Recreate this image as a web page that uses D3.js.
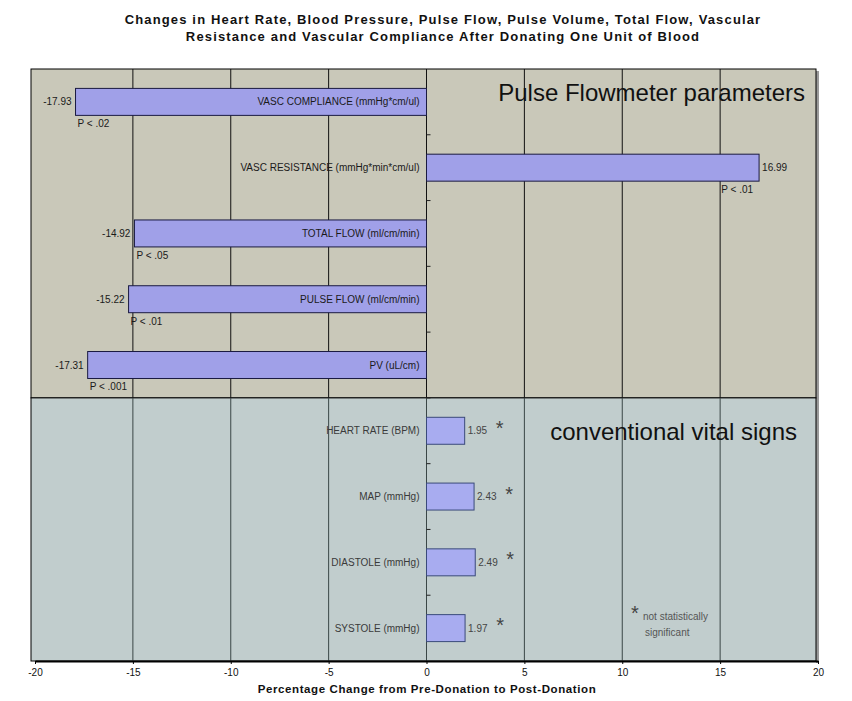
<!DOCTYPE html>
<html>
  <head>
    <meta charset="utf-8" />
    <style>
      body { margin: 0; background: #fff; }
      text { font-family: "Liberation Sans", Arial, sans-serif; }
    </style>
  </head>
  <body>

<svg id="graph"></svg>

<script src="https://d3js.org/d3.v7.min.js"></script>
<script>
  const WIDTH = 852;
  const HEIGHT = 701;

  // data, top to bottom as drawn
  const CATEGORIES = [
    'VASC COMPLIANCE (mmHg*cm/ul)',
    'VASC RESISTANCE (mmHg*min*cm/ul)',
    'TOTAL FLOW (ml/cm/min)',
    'PULSE FLOW (ml/cm/min)',
    'PV (uL/cm)',
    'HEART RATE (BPM)',
    'MAP (mmHg)',
    'DIASTOLE (mmHg)',
    'SYSTOLE (mmHg)'
  ];
  const VALUES = [-17.93, 16.99, -14.92, -15.22, -17.31, 1.95, 2.43, 2.49, 1.97];
  const P_LABELS = ['P < .02', 'P < .01', 'P < .05', 'P < .01', 'P < .001', '', '', '', ''];
  const GROUPS = ['pulse', 'pulse', 'pulse', 'pulse', 'pulse', 'vital', 'vital', 'vital', 'vital'];
  const NOT_SIGNIFICANT = [false, false, false, false, false, true, true, true, true];
  const X_TICKS = [-20, -15, -10, -5, 0, 5, 10, 15, 20];

  const DATA = CATEGORIES.map((c, i) => ({
    cat: c, value: VALUES[i], p: P_LABELS[i], group: GROUPS[i], ns: NOT_SIGNIFICANT[i]
  }));

  const PLOT = { left: 31, right: 816, top: 69, bottom: 661 };

  const svg = d3.select('#graph').attr('width', WIDTH).attr('height', HEIGHT);

  const x = d3.scaleLinear().domain([-20, 20]).range([35, 818]);
  const y = d3.scaleBand().domain(CATEGORIES).range([PLOT.top, PLOT.bottom]).padding(0);
  const BAR_H = y.step() * 0.41;
  const cy = d => y(d.cat) + y.bandwidth() / 2;

  // title
  const title = svg.append('text')
    .attr('x', 443).attr('y', 24)
    .attr('text-anchor', 'middle')
    .style('font-size', '13px').style('font-weight', 'bold')
    .style('letter-spacing', '1.15px').attr('fill', '#111');
  title.append('tspan').attr('x', 443).attr('dy', 0)
    .text('Changes in Heart Rate, Blood Pressure, Pulse Flow, Pulse Volume, Total Flow, Vascular');
  title.append('tspan').attr('x', 443).attr('dy', 17)
    .text('Resistance and Vascular Compliance After Donating One Unit of Blood');

  // section backgrounds
  const splitY = y(CATEGORIES[5]);
  svg.append('rect')
    .attr('x', PLOT.right).attr('y', PLOT.top + 2)
    .attr('width', 3).attr('height', PLOT.bottom - PLOT.top)
    .attr('fill', '#9a9a9a');
  svg.append('rect')
    .attr('x', PLOT.left).attr('y', PLOT.top)
    .attr('width', PLOT.right - PLOT.left).attr('height', splitY - PLOT.top)
    .attr('fill', '#c9c8b9').attr('stroke', '#000').attr('stroke-width', 1);
  svg.append('rect')
    .attr('x', PLOT.left).attr('y', splitY)
    .attr('width', PLOT.right - PLOT.left).attr('height', PLOT.bottom - splitY)
    .attr('fill', '#c1cdcd').attr('stroke', '#000').attr('stroke-width', 1);

  // gridlines
  const gridVals = X_TICKS.filter(v => v > -20 && v < 20);
  svg.selectAll('line.gtop').data(gridVals).enter().append('line')
    .attr('x1', d => x(d)).attr('x2', d => x(d))
    .attr('y1', PLOT.top).attr('y2', splitY)
    .attr('stroke', '#111').attr('stroke-width', 1);
  svg.selectAll('line.gbot').data(gridVals).enter().append('line')
    .attr('x1', d => x(d)).attr('x2', d => x(d))
    .attr('y1', splitY).attr('y2', PLOT.bottom)
    .attr('stroke', '#3a4646').attr('stroke-width', 1);

  // tick marks on the zero axis at category boundaries
  svg.selectAll('line.ytick').data(CATEGORIES.slice(1)).enter().append('line')
    .attr('x1', x(0)).attr('x2', x(0) + 4)
    .attr('y1', d => y(d)).attr('y2', d => y(d))
    .attr('stroke', '#222');

  // section titles
  svg.append('text').attr('x', 805).attr('y', 101)
    .attr('text-anchor', 'end').style('font-size', '24px').attr('fill', '#111')
    .text('Pulse Flowmeter parameters');
  svg.append('text').attr('x', 797).attr('y', 440)
    .attr('text-anchor', 'end').style('font-size', '24px').attr('fill', '#111')
    .text('conventional vital signs');

  // bars
  svg.selectAll('rect.bar').data(DATA).enter().append('rect')
    .attr('x', d => x(Math.min(0, d.value)))
    .attr('y', d => cy(d) - BAR_H / 2)
    .attr('width', d => Math.abs(x(d.value) - x(0)))
    .attr('height', BAR_H)
    .attr('fill', d => d.group === 'pulse' ? '#a0a0e8' : '#a8acf0')
    .attr('stroke', d => d.group === 'pulse' ? '#1a1a40' : '#3a4a7a')
    .attr('stroke-width', 1);

  // category labels
  svg.selectAll('text.cat').data(DATA).enter().append('text')
    .attr('x', x(0) - 7).attr('y', d => cy(d) + 3.5)
    .attr('text-anchor', 'end').style('font-size', '10px')
    .attr('fill', d => d.group === 'pulse' ? '#1a1a1a' : '#3a3a3a')
    .text(d => d.cat);

  // value labels
  svg.selectAll('text.val').data(DATA).enter().append('text')
    .attr('x', d => d.value < 0 ? x(d.value) - 4 : x(d.value) + 3)
    .attr('y', d => cy(d) + 3.5)
    .attr('text-anchor', d => d.value < 0 ? 'end' : 'start')
    .style('font-size', '10px')
    .attr('fill', d => d.group === 'pulse' ? '#1a1a1a' : '#444')
    .text(d => d.value.toFixed(2));

  // p labels
  svg.selectAll('text.p').data(DATA.filter(d => d.p)).enter().append('text')
    .attr('x', d => d.value < 0 ? x(d.value) + 2 : x(d.value) - 6)
    .attr('y', d => cy(d) + BAR_H / 2 + 12)
    .attr('text-anchor', d => d.value < 0 ? 'start' : 'end')
    .style('font-size', '10px').attr('fill', '#1a1a1a')
    .text(d => d.p);

  // asterisks
  svg.selectAll('text.star').data(DATA.filter(d => d.ns)).enter().append('text')
    .attr('x', d => x(d.value) + 35).attr('y', d => cy(d) + 4)
    .attr('text-anchor', 'middle')
    .style('font-size', '20px').attr('fill', '#444')
    .text('*');

  // footnote
  svg.append('text').attr('x', 635).attr('y', 620)
    .attr('text-anchor', 'middle').style('font-size', '20px').attr('fill', '#444').text('*');
  svg.append('text').attr('x', 643).attr('y', 620)
    .style('font-size', '10px').attr('fill', '#555').text('not statistically');
  svg.append('text').attr('x', 645).attr('y', 636)
    .style('font-size', '10px').attr('fill', '#555').text('significant');

  // x axis
  const xAxis = svg.append('g')
    .attr('transform', `translate(0,${PLOT.bottom})`)
    .call(d3.axisBottom(x).tickValues(X_TICKS).tickSize(3).tickSizeOuter(0).tickFormat(d => String(d)));
  xAxis.select('.domain').attr('stroke', '#000').attr('stroke-width', 2);
  xAxis.selectAll('.tick line').attr('stroke', '#000');
  xAxis.selectAll('.tick text')
    .style('font-family', '"Liberation Sans", Arial, sans-serif')
    .style('font-size', '10px').attr('fill', '#111').attr('dy', '0.9em');

  svg.append('text')
    .attr('x', 427).attr('y', 693)
    .attr('text-anchor', 'middle')
    .style('font-size', '11.5px').style('font-weight', 'bold')
    .style('letter-spacing', '0.6px').attr('fill', '#111')
    .text('Percentage Change from Pre-Donation to Post-Donation');

</script>
  </body>
</html>
